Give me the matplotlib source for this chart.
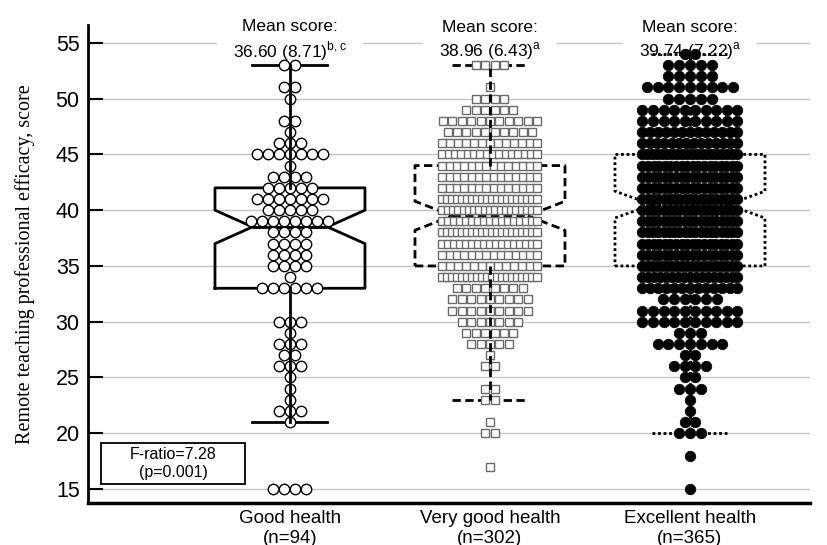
import numpy as np
import matplotlib
matplotlib.use('Agg')
import matplotlib.pyplot as plt
from matplotlib.patches import Rectangle

plt.rcParams['font.family'] = ['Liberation Sans', 'DejaVu Sans']
plt.rcParams['mathtext.fontset'] = 'custom'
plt.rcParams['mathtext.rm'] = 'Liberation Sans'

groups = ['Good health\n(n=94)', 'Very good health\n(n=302)', 'Excellent health\n(n=365)']
mean_labels = ['Mean score:\n36.60 (8.71)$^{\\mathrm{b,c}}$',
               'Mean score:\n38.96 (6.43)$^{\\mathrm{a}}$',
               'Mean score:\n39.74 (7.22)$^{\\mathrm{a}}$']

# score levels and number of teachers at each level
good_scores = [53, 51, 50, 48, 47, 46, 45, 44, 43, 42, 41, 40, 39, 38, 37, 36, 35, 34, 33,
               30, 29, 28, 27, 26, 25, 24, 23, 22, 21, 15]
good_counts = [2, 2, 1, 2, 1, 3, 7, 1, 4, 5, 7, 5, 8, 4, 4, 4, 4, 1, 6,
               3, 1, 3, 2, 3, 1, 1, 1, 3, 1, 4]

vgood_scores = [53, 51, 50, 49, 48, 47, 46, 45, 44, 43, 42, 41, 40, 39, 38, 37, 36, 35, 34, 33,
                32, 31, 30, 29, 28, 27, 26, 24, 23, 21, 20, 17]
vgood_counts = [4, 1, 4, 6, 11, 10, 13, 16, 14, 14, 14, 20, 19, 17, 20, 17, 14, 13, 20, 8,
                9, 9, 7, 6, 5, 1, 2, 2, 2, 1, 2, 1]

exc_scores = [54, 53, 52, 51, 50, 49, 48, 47, 46, 45, 44, 43, 42, 41, 40, 39, 38, 37, 36, 35,
              34, 33, 32, 31, 30, 29, 28, 27, 26, 25, 24, 23, 22, 21, 20, 18, 15]
exc_counts = [2, 5, 5, 9, 5, 10, 10, 13, 14, 20, 18, 18, 18, 19, 19, 19, 19, 18, 18, 20,
              17, 13, 6, 10, 10, 3, 7, 2, 4, 2, 3, 1, 1, 2, 3, 1, 1]

# box statistics as drawn
q1 = [33, 35, 35]
med = [38.5, 39.5, 40.5]
q3 = [42, 44, 45]
whis_lo = [21, 23, 20]
whis_hi = [53, 53, 54]
notch_lo = [37.0, 38.2, 39.3]
notch_hi = [40.0, 40.8, 41.7]

scores = [good_scores, vgood_scores, exc_scores]
counts = [good_counts, vgood_counts, exc_counts]

fig = plt.figure(figsize=(8.27, 5.45), dpi=100)
ax = fig.add_axes([0.1064, 0.0771, 0.873, 0.877])
xlim = (-0.01, 3.6)
ax.set_xlim(*xlim)
ax.set_ylim(13.75, 56.6)

px_per_unit = 827 * 0.873 / (xlim[1] - xlim[0])

line_styles = ['-', (0, (3, 1.6)), (0, (1, 1))]
dot_styles = [dict(marker='o', ms=7.5, mfc='white', mec='black', mew=1.0),
              dict(marker='s', ms=6.2, mfc='white', mec='#6a6a6a', mew=1.0),
              dict(marker='o', ms=7.6, mfc='black', mec='black', mew=0.5)]
step_px = [11.0, 9.4, 10.8]
max_span_px = [96, 95, 95]


def row_offsets(n, step, max_span):
    if n > 1 and (n - 1) * step > max_span:
        step = max_span / (n - 1)
    return (np.arange(n) - (n - 1) / 2) * step


for i in range(3):
    pos = i + 1
    stats = [dict(q1=q1[i], med=med[i], q3=q3[i], whislo=whis_lo[i], whishi=whis_hi[i],
                  cilo=notch_lo[i], cihi=notch_hi[i], fliers=[])]
    lp = dict(color='black', lw=2, ls=line_styles[i])
    wz = 4 if i < 2 else 2
    ax.bxp(stats, positions=[pos], widths=0.75, shownotches=True, showfliers=False,
           boxprops=lp, medianprops=lp, capprops=lp,
           whiskerprops=dict(color='black', lw=2, ls=line_styles[i], zorder=wz),
           manage_ticks=False)
    for s, c in zip(scores[i], counts[i]):
        xs = pos + row_offsets(c, step_px[i], max_span_px[i]) / px_per_unit
        ax.plot(xs, [s] * c, ls='none', zorder=3, **dot_styles[i])
    # white gap in the gridline behind the label, label itself on top
    ax.text(pos, 55.15, mean_labels[i], ha='center', va='center', fontsize=12.5,
            linespacing=1.3, zorder=1, color='none',
            bbox=dict(boxstyle='square,pad=0.9', fc='white', ec='none'))
    ax.text(pos, 55.15, mean_labels[i], ha='center', va='center', fontsize=12.5,
            linespacing=1.3, zorder=6)

ax.set_xticks([1, 2, 3])
ax.set_xticklabels(groups, fontsize=13.5, linespacing=1.2)
ax.tick_params(axis='x', length=0, pad=5)
ax.set_yticks(range(15, 56, 5))
ax.tick_params(axis='y', direction='in', length=11, width=1.5, labelsize=15.5, pad=6)

ax.yaxis.grid(True, color='#c4c4c4', lw=1)
ax.set_axisbelow(True)
for side in ['top', 'right']:
    ax.spines[side].set_visible(False)
ax.spines['left'].set_linewidth(2)
ax.spines['bottom'].set_linewidth(2.5)

ax.set_ylabel('Remote teaching professional efficacy, score', family='Liberation Serif',
              fontsize=14.5)
ax.yaxis.set_label_coords(-0.074, 0.5)

ax.add_patch(Rectangle((0.018, 0.0397), 0.1994, 0.0858, transform=ax.transAxes,
                       fill=True, fc='white', ec='black', lw=1.3, zorder=5))
ax.text(0.1177, 0.0826, 'F-ratio=7.28\n(p=0.001)', transform=ax.transAxes, ha='center',
        va='center', fontsize=11.5, linespacing=1.25, zorder=6)

fig.savefig('out.png', dpi=100)
